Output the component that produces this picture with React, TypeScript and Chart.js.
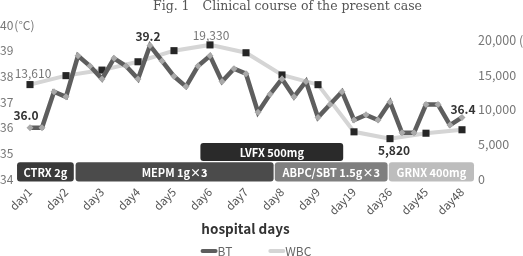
import React, { useEffect, useRef } from 'react';
import { Chart, registerables } from 'chart.js';

Chart.register(...registerables);

// Hospital-day categories on the x axis
const dayLabels = ['day1', 'day2', 'day3', 'day4', 'day5', 'day6', 'day7', 'day8', 'day9', 'day19', 'day36', 'day45', 'day48'];
// Body temperature is charted three times per category step
const readingsPerDay = 3;

// Body temperature (°C)
const bodyTemp = [
  36.0, 36.0, 37.4, 37.2, 38.8, 38.4, 37.9, 38.7, 38.4, 37.9,
  39.2, 38.6, 38.0, 37.6, 38.4, 38.8, 37.8, 38.3, 38.1, 36.6,
  37.3, 37.9, 37.2, 37.8, 36.4, 36.9, 37.4, 36.3, 36.5, 36.3,
  37.0, 35.8, 35.8, 36.9, 36.9, 36.1, 36.4,
];

// White blood cell count (/μL), one per category
const wbcCount = [13610, 14900, 15700, 16900, 18500, 19330, 18200, 15000, 13600, 6800, 5820, 6600, 7100];

// Axis ticks and units
const tempTicks = [34, 35, 36, 37, 38, 39, 40];
const wbcTicks = [0, 5000, 10000, 15000, 20000];
const tempUnit = '(°C)';
const wbcUnit = '(/μL)';

// Antibiotic regimens (positions in body-temperature reading units)
const regimenNames = ['CTRX 2g', 'MEPM 1g×3', 'ABPC/SBT 1.5g×3', 'GRNX 400mg', 'LVFX 500mg'];
const regimenStart = [-1.08, 3.8, 20.4, 29.9, 14.2];
const regimenEnd = [3.65, 20.3, 29.8, 37.0, 26.1];
const regimenRow = [0, 0, 0, 0, 1];

// Points whose values are printed beside them
const btLabelIndex = [0, 10, 36];
const wbcLabelIndex = [0, 5, 10];

const titleText = 'Fig. 1\u3000Clinical course of the present case';

const FONT = "'Noto Sans CJK JP', 'Noto Sans', sans-serif";
const regimenColors = ['#3a3a3a', '#4b4b4b', '#7f7f7f', '#bdbdbd', '#2a2a2a'];
const rowBands = [
  [33.9, 34.65],
  [34.7, 35.4],
];
const btLabelStyle = [
  { dx: -4, dy: -12, bold: true },
  { dx: -2, dy: -9, bold: true },
  { dx: 1, dy: -8, bold: true },
];
const wbcLabelStyle = [
  { dx: 3, dy: -11, bold: false },
  { dx: 1, dy: -9, bold: false },
  { dx: 4, dy: 12, bold: true },
];

const titlePlugin = {
  id: 'figTitle',
  afterDraw(chart: any) {
    const { ctx } = chart;
    ctx.save();
    ctx.font = "12.5px 'DejaVu Serif', 'Liberation Serif', serif";
    ctx.fillStyle = '#555';
    ctx.textAlign = 'left';
    ctx.textBaseline = 'alphabetic';
    ctx.fillText(titleText, 153, 10);
    ctx.restore();
  },
};

// Unit text beside the top tick of the temperature axis
const unitPlugin = {
  id: 'axisUnits',
  afterDraw(chart: any) {
    const { ctx } = chart;
    const ys = chart.scales.y;
    ctx.save();
    ctx.font = `12px ${FONT}`;
    ctx.fillStyle = '#777';
    ctx.textAlign = 'left';
    ctx.textBaseline = 'middle';
    const top = tempTicks[tempTicks.length - 1];
    const w = ctx.measureText(String(top)).width;
    ctx.fillText(tempUnit, ys.left + w + 1, ys.getPixelForValue(top));
    ctx.restore();
  },
};

const regimenPlugin = {
  id: 'regimens',
  beforeDatasetsDraw(chart: any) {
    const { ctx } = chart;
    const xs = chart.scales.x;
    const ys = chart.scales.y;
    ctx.save();
    regimenNames.forEach((name, i) => {
      const band = rowBands[regimenRow[i]];
      const x0 = xs.getPixelForValue(regimenStart[i]);
      const x1 = xs.getPixelForValue(regimenEnd[i]);
      const y0 = ys.getPixelForValue(band[1]);
      const y1 = ys.getPixelForValue(band[0]);
      ctx.fillStyle = regimenColors[i];
      ctx.beginPath();
      ctx.roundRect(x0, y0, x1 - x0, y1 - y0, 3);
      ctx.fill();
      ctx.fillStyle = '#fff';
      ctx.font = `bold 11px ${FONT}`;
      ctx.textAlign = 'center';
      ctx.textBaseline = 'middle';
      ctx.fillText(name, (x0 + x1) / 2, (y0 + y1) / 2 + 0.5);
    });
    ctx.restore();
  },
};

const valueLabelPlugin = {
  id: 'valueLabels',
  afterDatasetsDraw(chart: any) {
    const { ctx } = chart;
    const xs = chart.scales.x;
    ctx.save();
    ctx.textAlign = 'center';
    ctx.textBaseline = 'middle';
    btLabelIndex.forEach((idx, k) => {
      const st = btLabelStyle[k];
      const v = bodyTemp[idx];
      const px = xs.getPixelForValue(idx);
      const py = chart.scales.y.getPixelForValue(v);
      ctx.font = `${st.bold ? 'bold ' : ''}12px ${FONT}`;
      ctx.fillStyle = st.bold ? '#333' : '#777';
      ctx.fillText(v.toFixed(1), px + st.dx, py + st.dy);
    });
    wbcLabelIndex.forEach((idx, k) => {
      const st = wbcLabelStyle[k];
      const v = wbcCount[idx];
      const px = xs.getPixelForValue(idx * readingsPerDay);
      const py = chart.scales.y2.getPixelForValue(v);
      ctx.font = `${st.bold ? 'bold ' : ''}12px ${FONT}`;
      ctx.fillStyle = st.bold ? '#333' : '#777';
      ctx.fillText(v.toLocaleString('en-US'), px + st.dx, py + st.dy);
    });
    ctx.restore();
  },
};

// Legend: short thick line sample followed directly by the series name
const legendPlugin = {
  id: 'lineLegend',
  afterDraw(chart: any) {
    const { ctx } = chart;
    const sample = 16;
    const gap = 1;
    const spacing = 36;
    ctx.save();
    ctx.font = `12px ${FONT}`;
    const items = chart.data.datasets.map((ds: any) => ({
      label: ds.label,
      color: ds.borderColor,
      w: sample + gap + ctx.measureText(ds.label).width,
    }));
    const total = items.reduce((s: number, it: any) => s + it.w, 0) + spacing * (items.length - 1);
    let x = 256 - total / 2;
    const y = chart.height - 5;
    items.forEach((it: any) => {
      ctx.strokeStyle = it.color;
      ctx.lineWidth = 4;
      ctx.lineCap = 'round';
      ctx.beginPath();
      ctx.moveTo(x + 2, y);
      ctx.lineTo(x + sample - 1, y);
      ctx.stroke();
      ctx.fillStyle = '#666';
      ctx.textAlign = 'left';
      ctx.textBaseline = 'middle';
      ctx.fillText(it.label, x + sample + gap, y);
      x += it.w + spacing;
    });
    ctx.restore();
  },
};

export default function App() {
  const canvasRef = useRef<HTMLCanvasElement | null>(null);

  useEffect(() => {
    if (!canvasRef.current) return;
    Chart.defaults.font.family = FONT;
    const lastX = (dayLabels.length - 1) * readingsPerDay;

    const chart = new Chart(canvasRef.current, {
      type: 'line',
      data: {
        datasets: [
          {
            label: 'BT',
            data: bodyTemp.map((v, i) => ({ x: i, y: v })),
            yAxisID: 'y',
            borderColor: '#5e5e5e',
            backgroundColor: '#5e5e5e',
            borderWidth: 4.5,
            pointStyle: 'rectRot',
            pointRadius: 3.5,
            pointBackgroundColor: '#a9a9a9',
            pointBorderWidth: 0,
            tension: 0,
            order: 0,
          },
          {
            label: 'WBC',
            data: wbcCount.map((v, i) => ({ x: i * readingsPerDay, y: v })),
            yAxisID: 'y2',
            borderColor: '#d5d5d5',
            backgroundColor: '#d5d5d5',
            borderWidth: 4,
            pointStyle: 'rect',
            pointRadius: 5,
            pointBackgroundColor: '#262626',
            pointBorderWidth: 0,
            tension: 0,
            order: 1,
          },
        ],
      },
      options: {
        animation: false,
        responsive: true,
        maintainAspectRatio: false,
        layout: { padding: { top: 25, left: 0, right: 0, bottom: 19 } },
        plugins: {
          tooltip: { enabled: false },
          title: { display: false },
          legend: { display: false },
        },
        scales: {
          x: {
            type: 'linear',
            min: -1.083,
            max: lastX + 1,
            grid: { display: false, drawTicks: false },
            border: { display: false },
            afterBuildTicks: (scale: any) => {
              scale.ticks = dayLabels.map((_, i) => ({ value: i * readingsPerDay }));
            },
            afterFit: (scale: any) => {
              scale.height = 58;
            },
            ticks: {
              autoSkip: false,
              minRotation: 45,
              maxRotation: 45,
              padding: 6,
              color: '#555',
              font: { size: 11.5, family: FONT },
              callback: (value: any) => dayLabels[Math.round(Number(value) / readingsPerDay)] ?? '',
            },
            title: {
              display: true,
              text: 'hospital days',
              color: '#333',
              font: { size: 13.5, weight: 'bold', family: FONT },
              padding: { top: 2, bottom: 0 },
            },
          },
          y: {
            position: 'left',
            min: tempTicks[0],
            max: tempTicks[tempTicks.length - 1],
            grid: { display: false, drawTicks: false },
            border: { display: false },
            afterBuildTicks: (scale: any) => {
              scale.ticks = tempTicks.map((v) => ({ value: v }));
            },
            afterFit: (scale: any) => {
              scale.width = 17;
            },
            ticks: {
              crossAlign: 'far',
              padding: 0,
              color: '#777',
              font: { size: 12, family: FONT },
            },
          },
          y2: {
            position: 'right',
            min: 0,
            max: 22200,
            grid: { display: false, drawTicks: false },
            border: { display: false },
            afterBuildTicks: (scale: any) => {
              scale.ticks = wbcTicks.map((v) => ({ value: v }));
            },
            afterFit: (scale: any) => {
              scale.width = 49;
            },
            ticks: {
              padding: 4,
              color: '#777',
              font: { size: 12.5, family: FONT },
              callback: (value: any) => {
                const v = Number(value);
                const text = v.toLocaleString('en-US');
                return v === wbcTicks[wbcTicks.length - 1] ? `${text} ${wbcUnit}` : text;
              },
            },
          },
        },
      },
      plugins: [regimenPlugin, valueLabelPlugin, titlePlugin, unitPlugin, legendPlugin],
    } as any);

    return () => chart.destroy();
  }, []);

  return (
    <div style={{ position: 'fixed', left: 0, top: 0, width: 523, height: 256, background: '#fff' }}>
      <canvas ref={canvasRef} />
    </div>
  );
}
